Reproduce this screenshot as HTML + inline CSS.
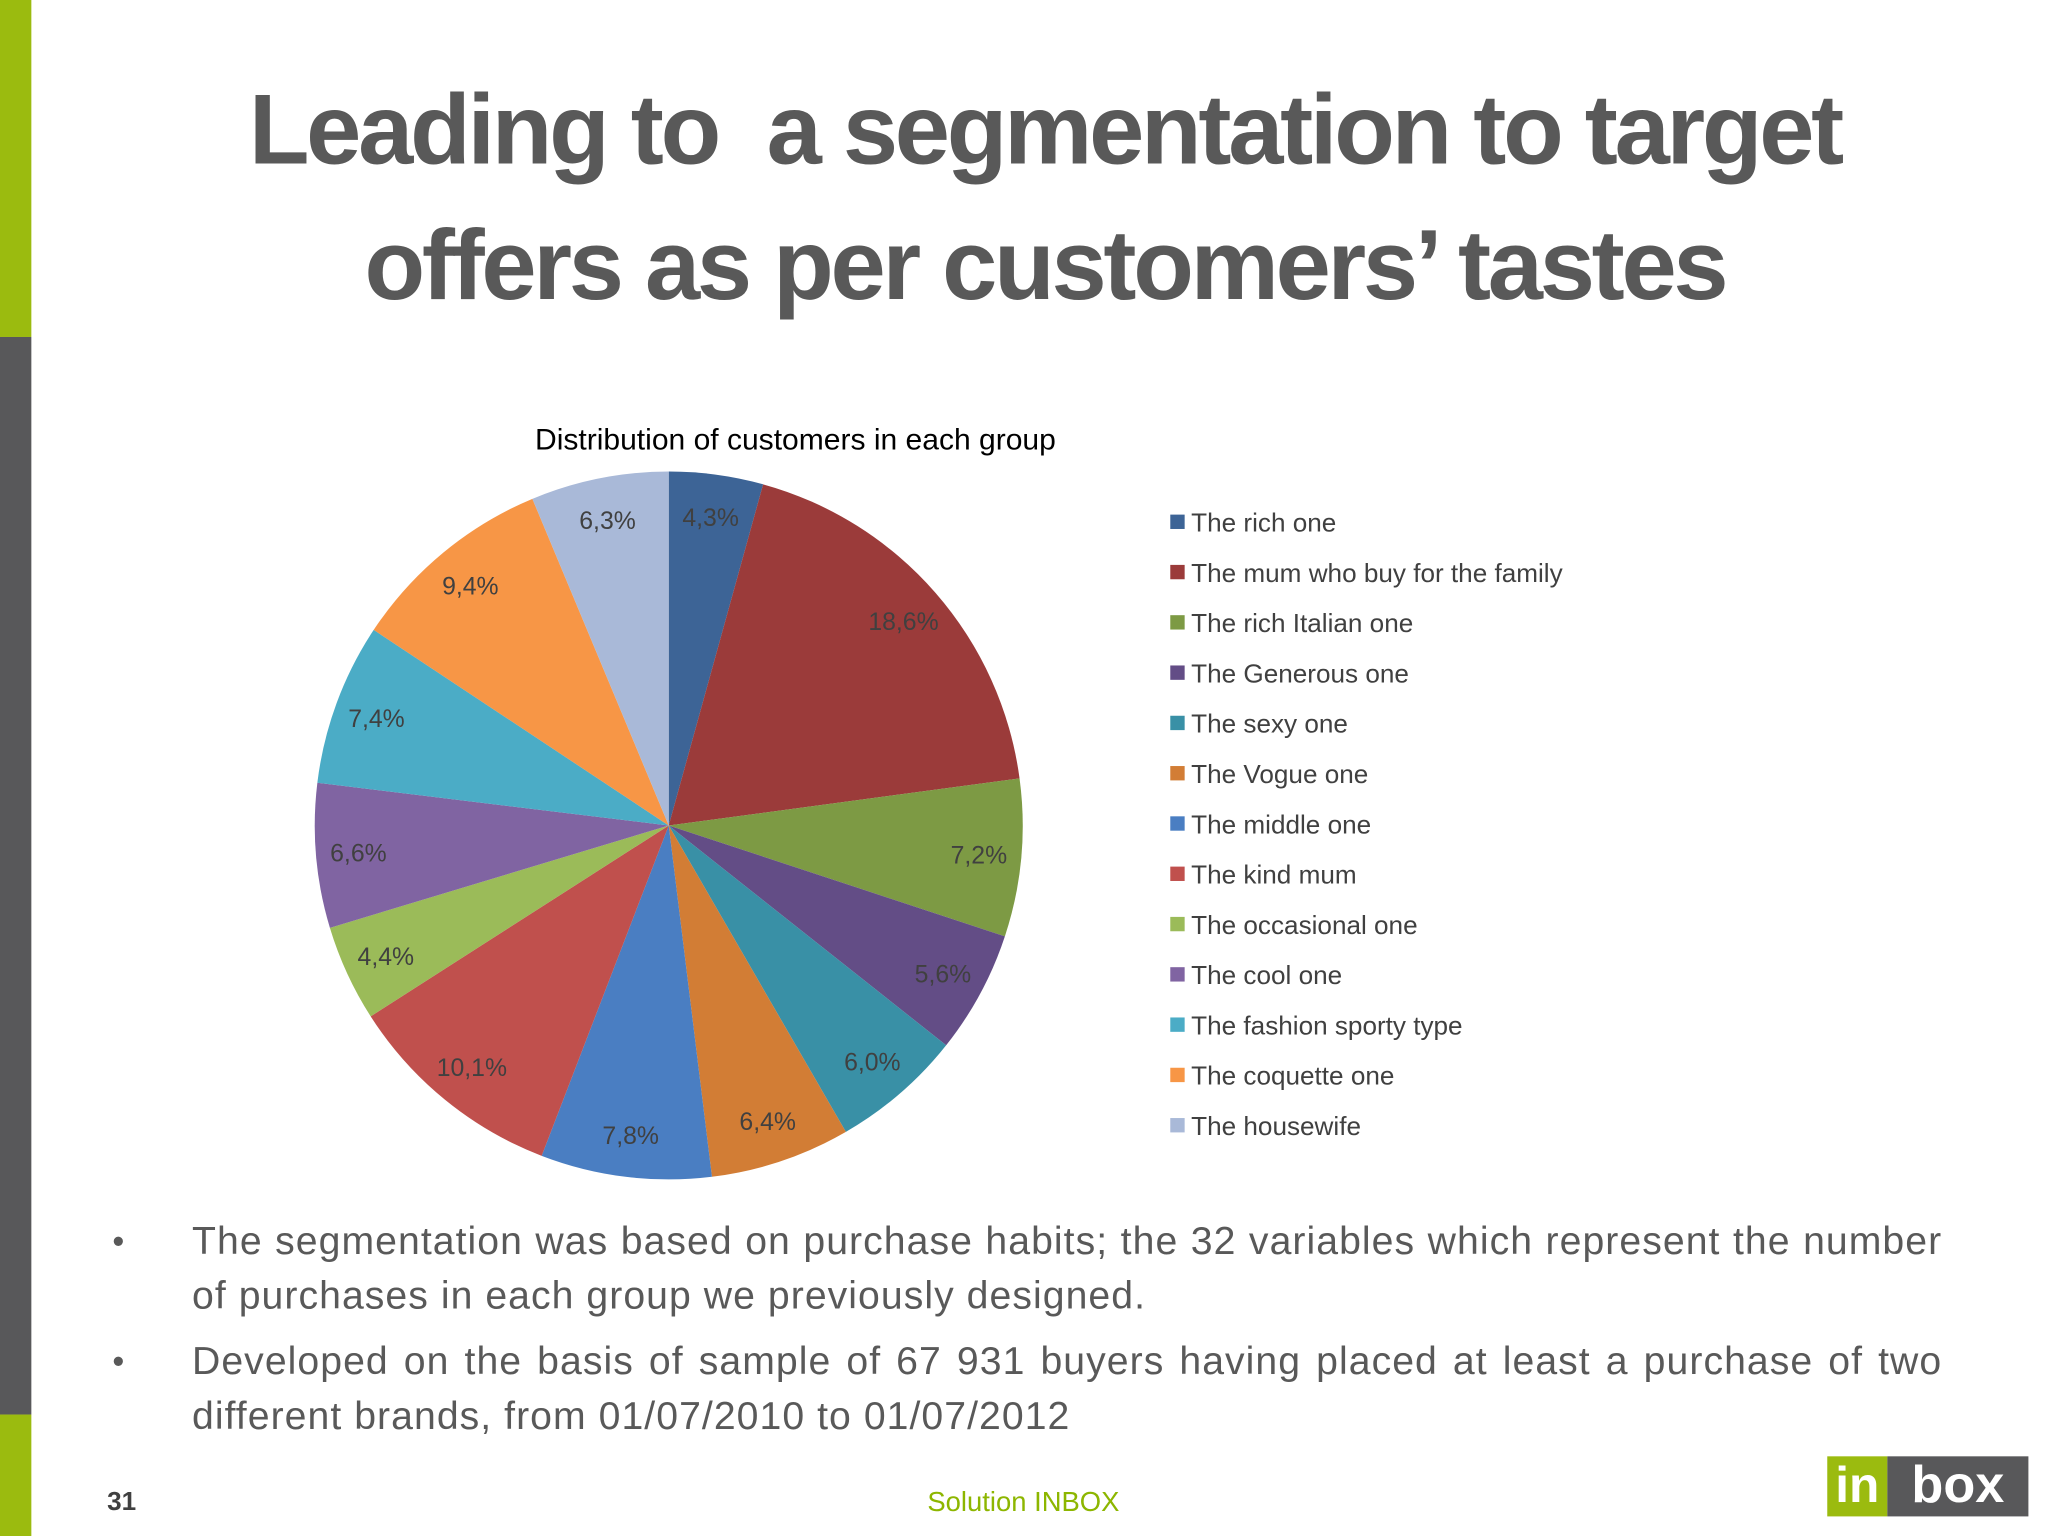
<!DOCTYPE html>
<html><head><meta charset="utf-8"><style>
html,body{margin:0;padding:0;background:#fff;}
#stage{width:1568px;height:1176px;position:relative;transform:scale(1.30612);transform-origin:0 0;overflow:hidden;font-family:"Liberation Sans",sans-serif;}
.abs{position:absolute;}
.title{left:0;width:1600px;text-align:center;font-family:"Liberation Sans Narrow","Liberation Sans",sans-serif;font-weight:bold;color:#595959;font-size:76px;letter-spacing:-2.5px;}
.bul{left:147px;width:1340px;font-size:30px;color:#595959;text-align:justify;line-height:42px;letter-spacing:0.8px;font-family:"Liberation Sans Narrow","Liberation Sans",sans-serif;}
.dot{left:86px;font-size:26px;color:#595959;}
</style></head><body>
<div id="stage">
<div class="abs" style="left:0;top:0;width:24px;height:258px;background:#9BBB0F"></div>
<div class="abs" style="left:0;top:258px;width:24px;height:825px;background:#58585A"></div>
<div class="abs" style="left:0;top:1083px;width:24px;height:93px;background:#9BBB0F"></div>
<div class="abs title" style="top:56px">Leading to&nbsp; a segmentation to target</div>
<div class="abs title" style="top:160px">offers as per customers’ tastes</div>
<svg class="abs" style="left:0;top:0" width="1568" height="1176" id="chart">
<text x="609" y="344" text-anchor="middle" font-size="23" fill="#000" font-family="Liberation Sans, sans-serif">Distribution of customers in each group</text>
</svg>
<div class="abs dot" style="top:935px">•</div>
<div class="abs bul" style="top:930px">The segmentation was based on purchase habits; the 32 variables which represent the number of purchases in each group we previously designed.</div>
<div class="abs dot" style="top:1027px">•</div>
<div class="abs bul" style="top:1022px">Developed on the basis of sample of 67 931 buyers having placed at least a purchase of two different brands, from 01/07/2010 to 01/07/2012</div>
<div class="abs" style="left:82px;top:1139px;font-size:20px;font-weight:bold;color:#404040">31</div>
<div class="abs" style="left:710px;top:1139px;font-size:21px;color:#8DB600">Solution INBOX</div>
<div class="abs" style="left:1399px;top:1115px;width:154px;height:46px;display:flex">
<div style="width:46px;background:#9BBB0F;color:#fff;font-weight:bold;font-size:38px;line-height:46px;text-align:center">in</div>
<div style="flex:1;background:#58585A;color:#fff;font-weight:bold;font-size:40px;line-height:44px;text-align:center">box</div>
</div>
</div>
<script>
const categories=["The rich one","The mum who buy for the family","The rich Italian one","The Generous one","The sexy one","The Vogue one","The middle one","The kind mum","The occasional one","The cool one","The fashion sporty type","The coquette one","The housewife"];
const values=[4.3,18.6,7.2,5.6,6.0,6.4,7.8,10.1,4.4,6.6,7.4,9.4,6.3];
const labels=["4,3%","18,6%","7,2%","5,6%","6,0%","6,4%","7,8%","10,1%","4,4%","6,6%","7,4%","9,4%","6,3%"];
const colors=["#3D6496","#9B3B3A","#7D9A44","#634D86","#3990A6","#D27D35","#4A7EC2","#C0504D","#9BBB59","#8064A2","#4BACC6","#F79646","#A9B9D8"];
const svg=document.getElementById('chart');
const NS="http://www.w3.org/2000/svg";
const cx=512,cy=632,r=271;
const total=values.reduce((a,b)=>a+b,0);
function pt(a,rr){return [cx+rr*Math.sin(a),cy-rr*Math.cos(a)];}
let acc=0;
values.forEach((v,i)=>{
  const a0=acc/total*2*Math.PI;acc+=v;const a1=acc/total*2*Math.PI;
  const p0=pt(a0,r),p1=pt(a1,r);
  const path=document.createElementNS(NS,'path');
  path.setAttribute('d',`M${cx},${cy}L${p0[0]},${p0[1]}A${r},${r} 0 ${a1-a0>Math.PI?1:0} 1 ${p1[0]},${p1[1]}Z`);
  path.setAttribute('fill',colors[i]);
  
  
  svg.appendChild(path);
  const lp=pt((a0+a1)/2,r*0.88);
  const t=document.createElementNS(NS,'text');
  t.setAttribute('x',lp[0]);t.setAttribute('y',lp[1]+7);
  t.setAttribute('text-anchor','middle');t.setAttribute('font-size','19');t.setAttribute('fill','#404040');
  t.textContent=labels[i];
  
  
  svg.appendChild(t);
  const y=400+i*38.5;
  const sq=document.createElementNS(NS,'rect');
  sq.setAttribute('x',896);sq.setAttribute('y',y-6);sq.setAttribute('width',11);sq.setAttribute('height',11);sq.setAttribute('fill',colors[i]);
  
  
  svg.appendChild(sq);
  const lt=document.createElementNS(NS,'text');
  lt.setAttribute('x',912);lt.setAttribute('y',y+7);lt.setAttribute('font-size','20');lt.setAttribute('fill','#404040');
  lt.textContent=categories[i];
  
  
  svg.appendChild(lt);
});
</script>
</body></html>
